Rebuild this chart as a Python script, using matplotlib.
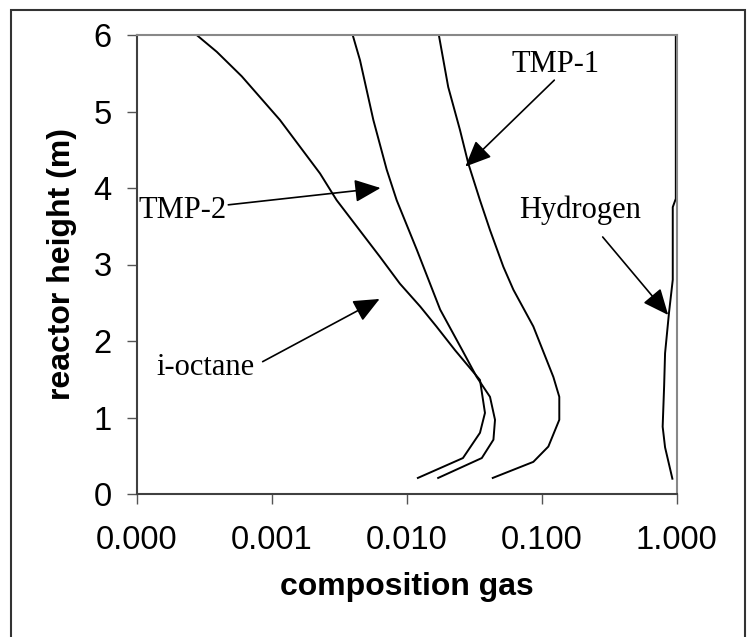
import numpy as np
import matplotlib.pyplot as plt
from matplotlib.patches import Rectangle
from matplotlib.ticker import FixedLocator, FuncFormatter, NullLocator

# reactor height (m) and gas composition for each species
h_ioct = [6.00, 5.78, 5.46, 4.89, 4.19, 3.84, 3.10, 2.75, 2.45, 2.19, 1.88, 1.49, 1.06, 0.80, 0.47, 0.21]
x_ioct = [2.78e-4, 3.92e-4, 6.0e-4, 1.15e-3, 2.28e-3, 3.03e-3, 6.34e-3, 8.9e-3, 1.26e-2, 1.66e-2,
          2.28e-2, 3.49e-2, 3.80e-2, 3.49e-2, 2.61e-2, 1.21e-2]

h_tmp2 = [6.00, 5.67, 4.89, 4.24, 3.84, 3.19, 2.41, 1.88, 1.53, 1.27, 0.97, 0.71, 0.47, 0.21]
x_tmp2 = [3.98e-3, 4.51e-3, 5.66e-3, 7.11e-3, 8.43e-3, 1.19e-2, 1.77e-2, 2.58e-2, 3.30e-2, 4.14e-2,
          4.51e-2, 4.39e-2, 3.60e-2, 1.71e-2]

h_tmp1 = [6.00, 5.32, 4.76, 4.32, 3.84, 3.45, 2.97, 2.67, 2.19, 1.53, 1.27, 0.97, 0.62, 0.42, 0.21]
x_tmp1 = [1.73e-2, 2.03e-2, 2.48e-2, 2.86e-2, 3.49e-2, 4.14e-2, 5.20e-2, 6.17e-2, 8.67e-2, 0.122,
          0.135, 0.135, 0.112, 0.0867, 0.0434]

h_h2 = [6.00, 3.86, 3.75, 2.80, 2.37, 1.84, 1.41, 0.88, 0.61, 0.20]
x_h2 = [0.985, 0.985, 0.935, 0.935, 0.877, 0.82, 0.807, 0.787, 0.82, 0.929]

x_ticks = [1e-4, 1e-3, 1e-2, 1e-1, 1.0]

# label text, text position, arrow tail, arrow tip  (composition, height)
labels = ['TMP-1', 'TMP-2', 'Hydrogen', 'i-octane']
label_pos = [(0.1256, 5.62), (2.17e-4, 3.71), (0.194, 3.71), (3.22e-4, 1.65)]
arrow_tail = [(0.124, 5.41), (4.77e-4, 3.78), (0.283, 3.36), (8.57e-4, 1.73)]
arrow_tip = [(0.0272, 4.28), (6.4e-3, 4.00), (0.865, 2.34), (6.3e-3, 2.55)]

fig = plt.figure(figsize=(7.56, 6.37), dpi=100)
ax = fig.add_axes([136.7/756, 1-494/637, 540/756, 459/637])

for xs, hs in [(x_ioct, h_ioct), (x_tmp2, h_tmp2), (x_tmp1, h_tmp1), (x_h2, h_h2)]:
    ax.plot(xs, hs, color='black', lw=1.4)

ax.set_xscale('log')
ax.set_xlim(1e-4, 1.0)
ax.set_ylim(0, 6)
ax.xaxis.set_major_locator(FixedLocator(x_ticks))
ax.xaxis.set_minor_locator(NullLocator())
ax.xaxis.set_major_formatter(FuncFormatter(lambda v, p: '%.3f' % v))
ax.set_yticks(range(7))

for s in ['left', 'bottom']:
    ax.spines[s].set_color('#404040')
    ax.spines[s].set_linewidth(1.5)
for s in ['top', 'right']:
    ax.spines[s].set_color('#888888')
    ax.spines[s].set_linewidth(1.5)

ax.tick_params(direction='out', length=7, width=1.0, color='#555555',
               labelsize=23.5, pad=11)
ax.tick_params(axis='x', pad=15)
for t in ax.get_xticklabels() + ax.get_yticklabels():
    t.set_fontfamily('Liberation Sans')

ax.set_xlabel('composition gas', fontsize=23, fontweight='bold',
              fontfamily='Liberation Sans', labelpad=12)
ax.set_ylabel('reactor height (m)', fontsize=23, fontweight='bold',
              fontfamily='Liberation Sans', labelpad=12)

for lab, pos, tail, tip in zip(labels, label_pos, arrow_tail, arrow_tip):
    ax.text(pos[0], pos[1], lab, fontsize=22, fontfamily='Liberation Serif',
            ha='center', va='center')
    ax.annotate('', xy=tip, xytext=tail,
                arrowprops=dict(arrowstyle='-|>,head_length=0.8,head_width=0.35',
                                mutation_scale=20, color='black', lw=1.2,
                                shrinkA=0, shrinkB=0))

# outer frame (bottom edge falls outside the image)
fig.patches.append(Rectangle((11/756, -10/637), 734/756, 637/637, transform=fig.transFigure,
                             fill=False, edgecolor='#333333', lw=1.5))

fig.savefig('out.png', dpi=100)
